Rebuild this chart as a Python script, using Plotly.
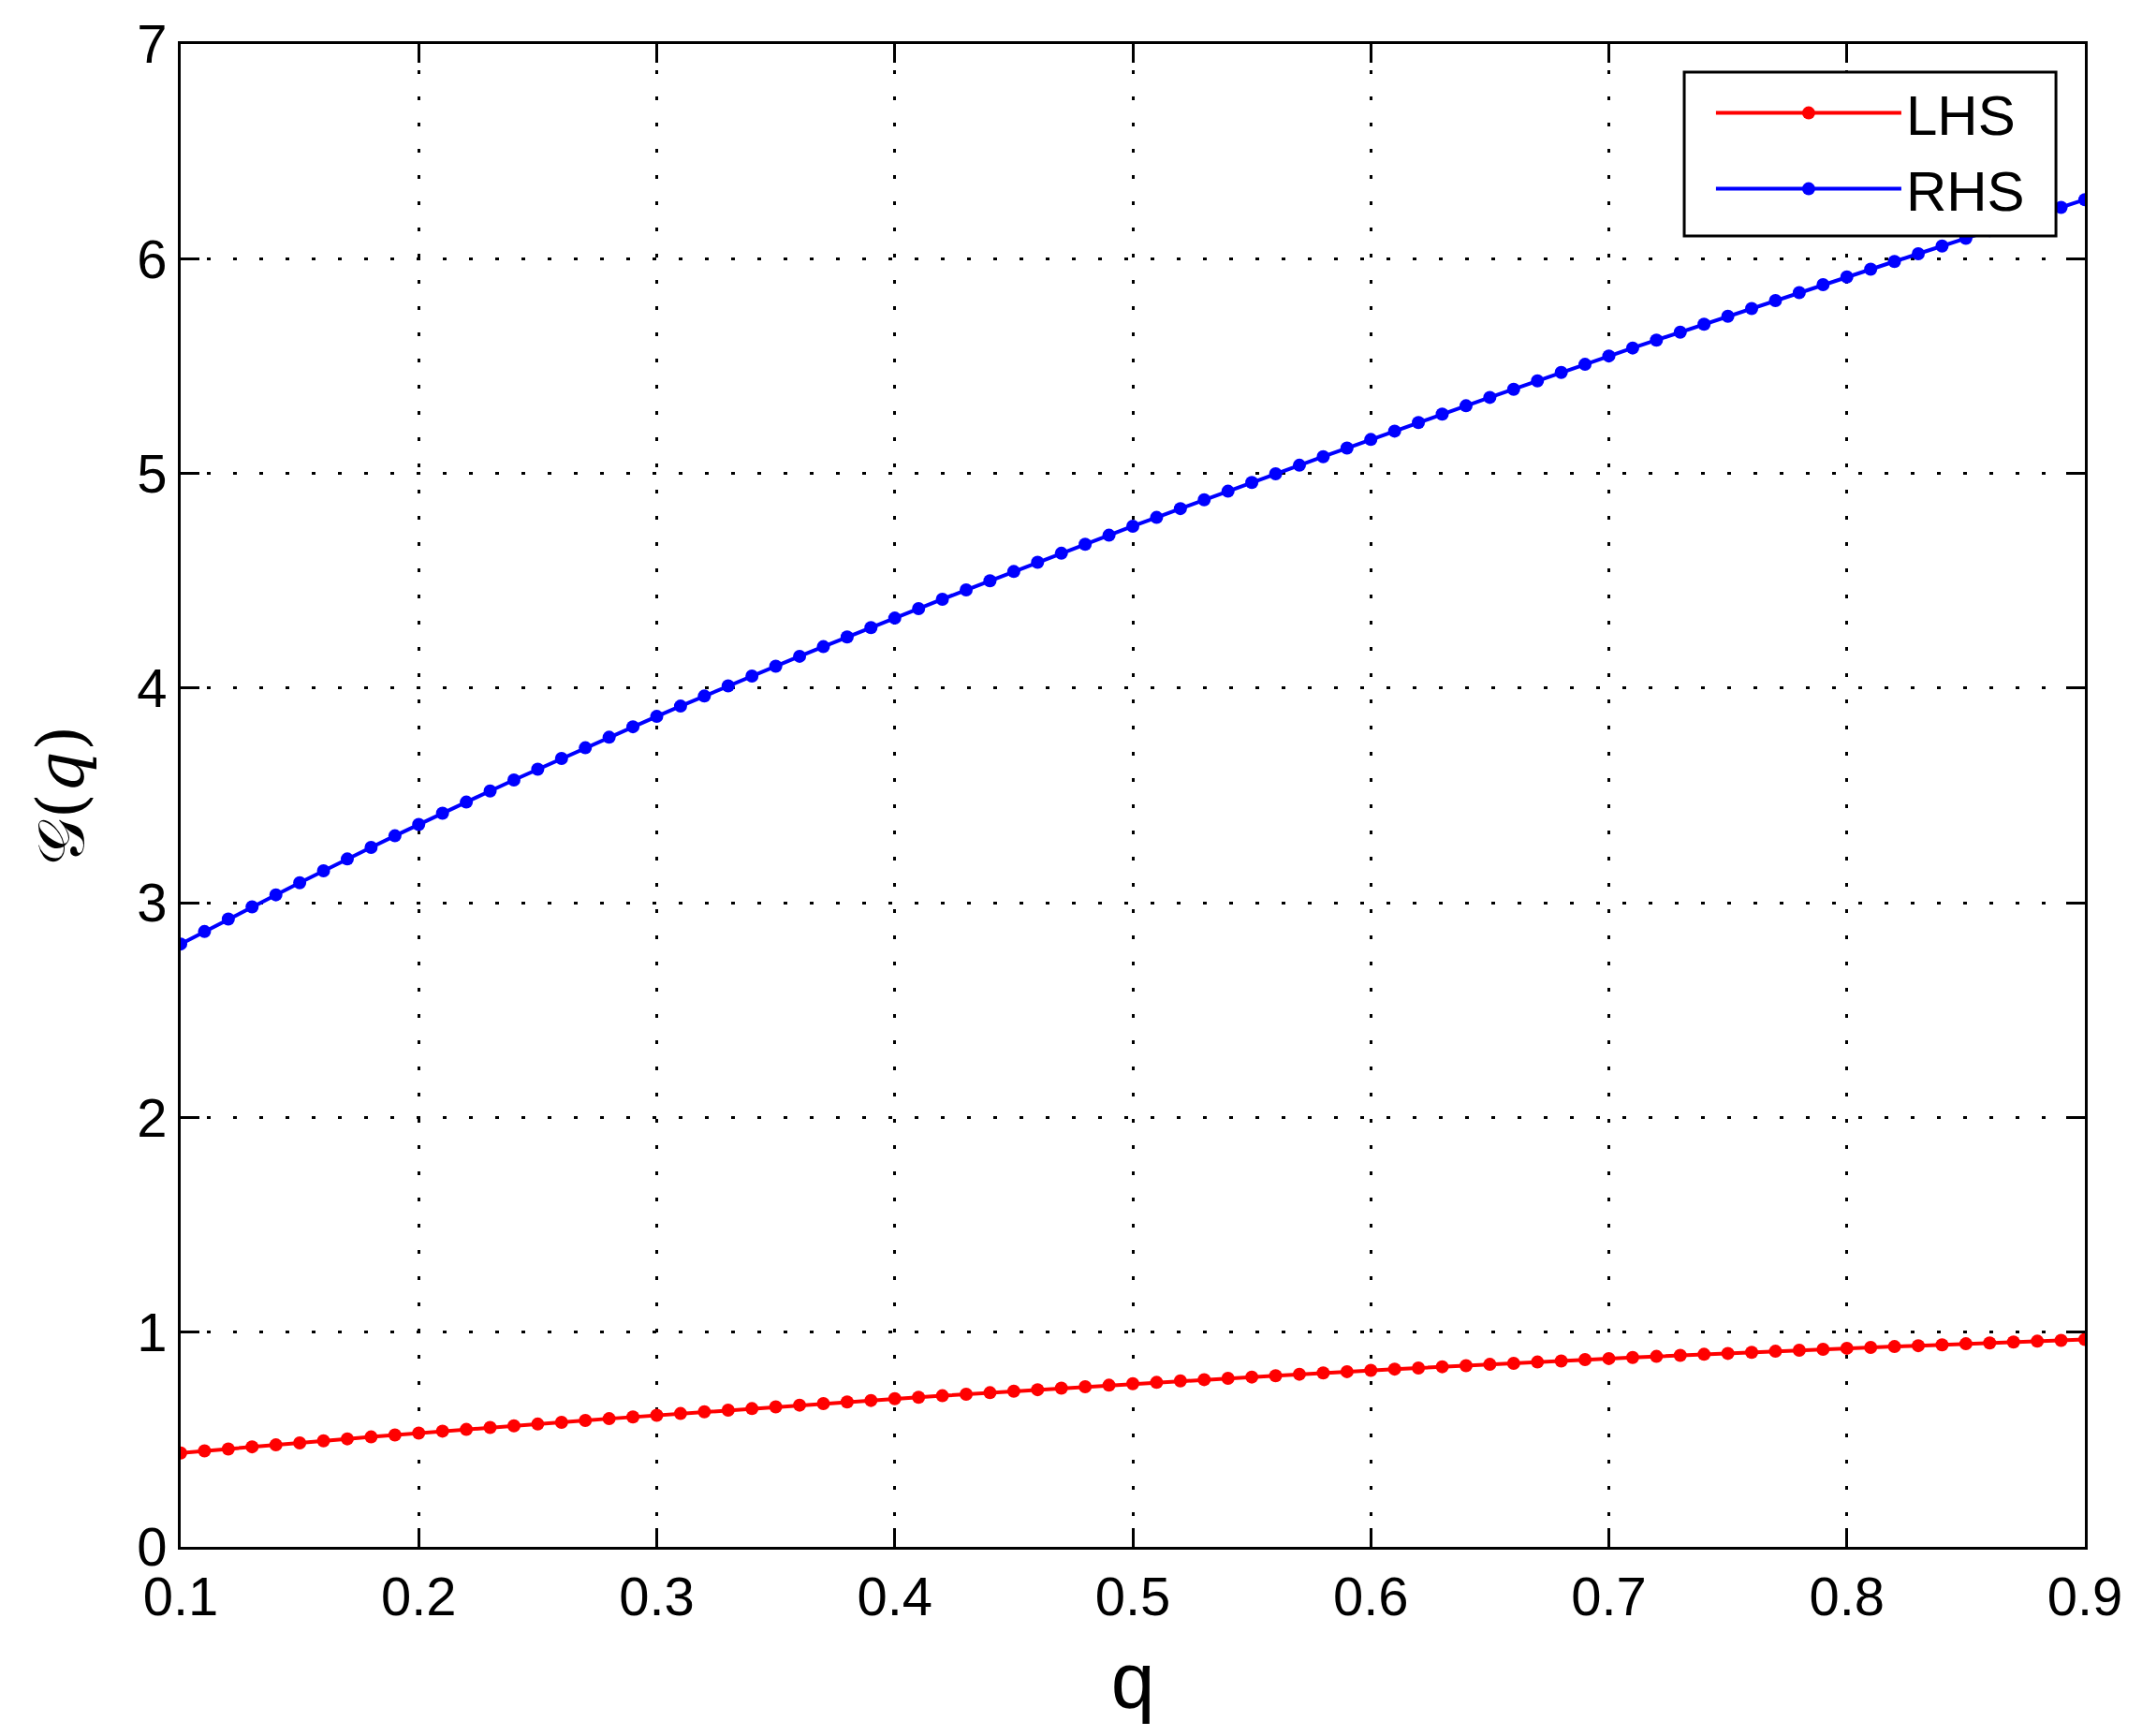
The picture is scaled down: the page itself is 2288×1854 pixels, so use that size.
import plotly.graph_objects as go

# q sample points (step 0.01)
Q = [0.10, 0.11, 0.12, 0.13, 0.14, 0.15, 0.16, 0.17, 0.18, 0.19,
     0.20, 0.21, 0.22, 0.23, 0.24, 0.25, 0.26, 0.27, 0.28, 0.29,
     0.30, 0.31, 0.32, 0.33, 0.34, 0.35, 0.36, 0.37, 0.38, 0.39,
     0.40, 0.41, 0.42, 0.43, 0.44, 0.45, 0.46, 0.47, 0.48, 0.49,
     0.50, 0.51, 0.52, 0.53, 0.54, 0.55, 0.56, 0.57, 0.58, 0.59,
     0.60, 0.61, 0.62, 0.63, 0.64, 0.65, 0.66, 0.67, 0.68, 0.69,
     0.70, 0.71, 0.72, 0.73, 0.74, 0.75, 0.76, 0.77, 0.78, 0.79,
     0.80, 0.81, 0.82, 0.83, 0.84, 0.85, 0.86, 0.87, 0.88, 0.89,
     0.90]

LHS = [0.437, 0.447, 0.456, 0.466, 0.475, 0.484, 0.494, 0.503, 0.512, 0.521,
       0.530, 0.539, 0.547, 0.556, 0.564, 0.572, 0.580, 0.589, 0.597, 0.605,
       0.613, 0.621, 0.629, 0.637, 0.644, 0.652, 0.660, 0.667, 0.675, 0.682,
       0.690, 0.697, 0.704, 0.711, 0.718, 0.725, 0.732, 0.739, 0.746, 0.753,
       0.760, 0.766, 0.773, 0.779, 0.785, 0.791, 0.797, 0.804, 0.810, 0.816,
       0.822, 0.828, 0.833, 0.839, 0.844, 0.850, 0.855, 0.861, 0.866, 0.872,
       0.877, 0.882, 0.887, 0.892, 0.897, 0.901, 0.906, 0.911, 0.916, 0.920,
       0.925, 0.929, 0.933, 0.937, 0.941, 0.946, 0.950, 0.954, 0.958, 0.962,
       0.966]

RHS = [2.808, 2.866, 2.924, 2.981, 3.037, 3.093, 3.149, 3.204, 3.258, 3.312,
       3.365, 3.417, 3.469, 3.521, 3.572, 3.622, 3.672, 3.722, 3.771, 3.820,
       3.868, 3.916, 3.963, 4.010, 4.056, 4.102, 4.148, 4.193, 4.238, 4.282,
       4.326, 4.370, 4.414, 4.457, 4.500, 4.543, 4.586, 4.628, 4.670, 4.712,
       4.754, 4.795, 4.836, 4.877, 4.917, 4.958, 4.998, 5.038, 5.078, 5.118,
       5.158, 5.197, 5.237, 5.276, 5.315, 5.354, 5.392, 5.431, 5.470, 5.508,
       5.547, 5.584, 5.621, 5.658, 5.695, 5.732, 5.768, 5.805, 5.842, 5.879,
       5.915, 5.951, 5.987, 6.023, 6.059, 6.095, 6.131, 6.167, 6.203, 6.239,
       6.275]

X_TICKS = [0.1, 0.2, 0.3, 0.4, 0.5, 0.6, 0.7, 0.8, 0.9]
X_LABELS = ["0.1", "0.2", "0.3", "0.4", "0.5", "0.6", "0.7", "0.8", "0.9"]
Y_TICKS = [0, 1, 2, 3, 4, 5, 6, 7]

FONT = "Liberation Sans, Arial, Helvetica, sans-serif"

fig = go.Figure()

fig.add_trace(go.Scatter(
    x=Q, y=LHS, name="LHS", mode="lines+markers",
    line=dict(color="#ff0000", width=4),
    marker=dict(color="#ff0000", size=14),
))
fig.add_trace(go.Scatter(
    x=Q, y=RHS, name="RHS", mode="lines+markers",
    line=dict(color="#0000ff", width=4),
    marker=dict(color="#0000ff", size=14),
))

axis_common = dict(
    showline=True, linecolor="black", linewidth=3, mirror="ticks",
    ticks="inside", ticklen=20, tickwidth=3, tickcolor="black",
    showgrid=True, gridcolor="black", gridwidth=3, griddash="4px,24px",
    zeroline=False, automargin=False,
    tickfont=dict(family=FONT, size=58, color="black"),
)

# legend frame (white box over the lines, matlab style)
fig.add_shape(
    type="rect", xref="paper", yref="paper",
    x0=0.7896, x1=0.9848, y0=0.8723, y1=0.9813,
    fillcolor="white", line=dict(color="black", width=3), layer="above",
)

fig.update_layout(
    width=2280, height=1846,
    paper_bgcolor="white", plot_bgcolor="white",
    margin=dict(l=185, r=61, t=39, b=202),
    font=dict(family=FONT, color="black"),
    xaxis=dict(
        range=[0.1, 0.9], tickvals=X_TICKS, ticktext=X_LABELS,
        title=dict(text="q", font=dict(family=FONT, size=84), standoff=30),
        **axis_common,
    ),
    yaxis=dict(
        range=[0, 7], tickvals=Y_TICKS,
        title=dict(text="\U0001D4A2(<i>q</i>)",
                   font=dict(family="DejaVu Serif, serif", size=70), standoff=34),
        **axis_common,
    ),
    legend=dict(
        x=0.8038, y=0.9825, xanchor="left", yanchor="top",
        bgcolor="rgba(0,0,0,0)", borderwidth=0,
        font=dict(family=FONT, size=60, color="black"),
        itemwidth=198,
    ),
    showlegend=True,
)

fig.write_html("out.html")
